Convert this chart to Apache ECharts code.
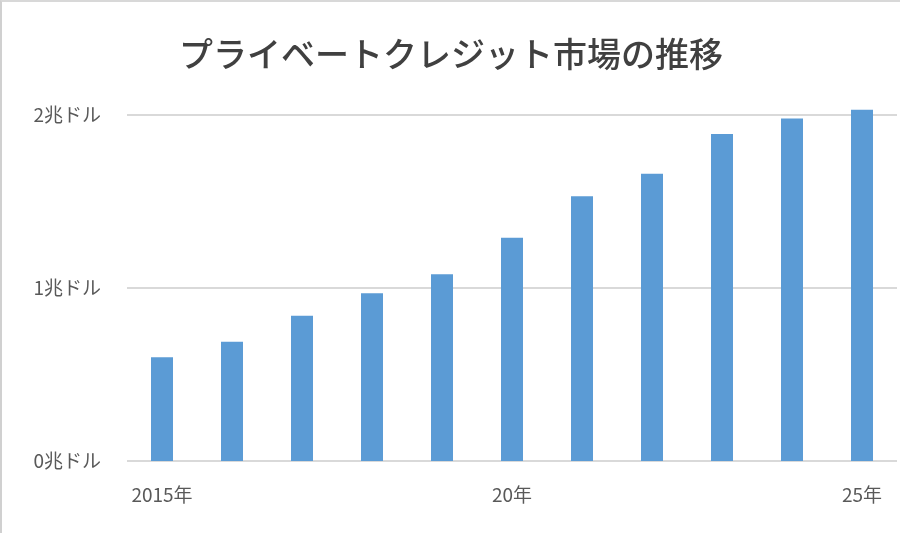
<!DOCTYPE html>
<html>
<head>
<meta charset="utf-8">
<script src="https://cdn.jsdelivr.net/npm/echarts@6/dist/echarts.min.js"></script>
<style>
    html, body { margin: 0; padding: 0; background: #fff; }
    #main { width: 900px; height: 533px; box-sizing: border-box; border-left: 2px solid #d0d0d0; border-top: 2px solid #d8d8d8; }
</style>
</head>
<body>
<div id="main"></div>
<script>
// 年（カテゴリ）
var years = ['2015年', '16年', '17年', '18年', '19年', '20年', '21年', '22年', '23年', '24年', '25年'];
// 市場規模（兆ドル）
var marketSize = [0.60, 0.69, 0.84, 0.97, 1.08, 1.29, 1.53, 1.66, 1.89, 1.98, 2.03];
var yTicks = [0, 1, 2];

var chartSet = function (obj) {
    var myChart = echarts.init(obj),
        font = '"Noto Sans CJK JP", "Noto Sans", sans-serif',
        option = {
            title: {
                text: 'プライベートクレジット市場の推移',
                left: 'center',
                top: 30,
                textStyle: {
                    fontFamily: font,
                    fontSize: 34,
                    fontWeight: 500,
                    color: '#404040'
                }
            },
            grid: {
                left: 125,
                right: 3,
                top: 113,
                bottom: 72
            },
            xAxis: {
                type: 'category',
                data: years,
                axisLine: { show: false },
                axisTick: { show: false },
                axisLabel: {
                    interval: function (i) { return i % 5 === 0; },
                    margin: 24,
                    fontFamily: font,
                    fontSize: 19,
                    color: '#595959'
                }
            },
            yAxis: {
                type: 'value',
                min: yTicks[0],
                max: yTicks[yTicks.length - 1],
                interval: 1,
                axisLine: { show: false },
                axisTick: { show: false },
                splitLine: { lineStyle: { color: '#d9d9d9', width: 2 } },
                axisLabel: {
                    margin: 26,
                    fontFamily: font,
                    fontSize: 19,
                    color: '#595959',
                    formatter: function (v) { return v + '兆ドル'; }
                }
            },
            series: [
                {
                    type: 'bar',
                    data: marketSize,
                    barWidth: 22,
                    clip: false,
                    itemStyle: { color: '#5b9bd5' }
                }
            ]
        };
    myChart.setOption(option);
};

chartSet(document.getElementById('main'));
</script>
</body>
</html>
